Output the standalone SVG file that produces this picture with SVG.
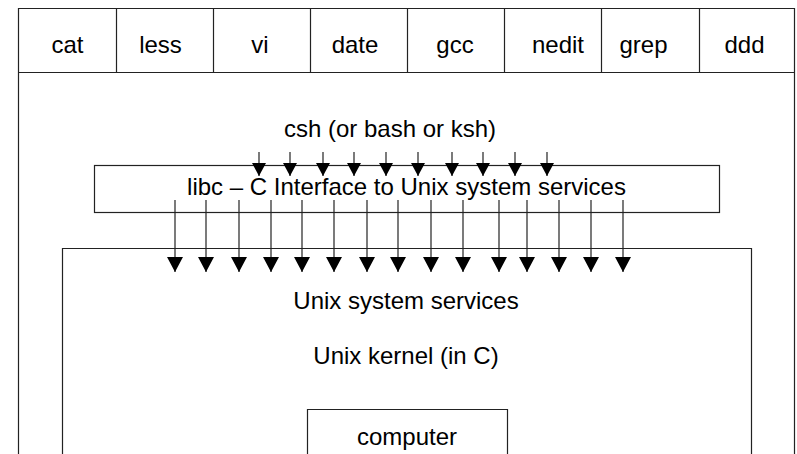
<svg xmlns="http://www.w3.org/2000/svg" width="797" height="454" viewBox="0 0 797 454">
  <style>
    .box { fill: none; stroke: #222; stroke-width: 1.2; }
    .lbl { font-family: "Liberation Sans", Arial, sans-serif; font-size: 24px; fill: #000; text-anchor: middle; }
    .arr { stroke: #222; stroke-width: 1.2; fill: none; }
    .s { marker-end: url(#headS); }
    .l { marker-end: url(#headL); }
  </style>
  <defs>
    <marker id="headS" markerUnits="userSpaceOnUse" markerWidth="13" markerHeight="14" refX="12" refY="6.5" orient="auto" viewBox="0 0 12 13">
      <path d="M0,0 L12,6.5 L0,13 z" fill="#000"/>
    </marker>
    <marker id="headL" markerUnits="userSpaceOnUse" markerWidth="15" markerHeight="16" refX="14" refY="7.5" orient="auto" viewBox="0 0 14 15">
      <path d="M0,0 L14,7.5 L0,15 z" fill="#000"/>
    </marker>
  </defs>

  <g id="outer">
    <path class="box" d="M18.5,460 V8.5 H794.5 V460"/>
    <path class="box" d="M18.5,72.5 H794.5"/>
  </g>

  <g id="programs">
    <g id="cat"><text class="lbl" x="67.5" y="53">cat</text></g>
    <path class="box" d="M116.5,8.5 V72.5"/>
    <g id="less"><text class="lbl" x="160.5" y="53">less</text></g>
    <path class="box" d="M213.5,8.5 V72.5"/>
    <g id="vi"><text class="lbl" x="260" y="53">vi</text></g>
    <path class="box" d="M310.5,8.5 V72.5"/>
    <g id="date"><text class="lbl" x="355" y="53">date</text></g>
    <path class="box" d="M407.5,8.5 V72.5"/>
    <g id="gcc"><text class="lbl" x="455" y="53">gcc</text></g>
    <path class="box" d="M504.5,8.5 V72.5"/>
    <g id="nedit"><text class="lbl" x="558" y="53">nedit</text></g>
    <path class="box" d="M601.5,8.5 V72.5"/>
    <g id="grep"><text class="lbl" x="643.5" y="53">grep</text></g>
    <path class="box" d="M699.5,8.5 V72.5"/>
    <g id="ddd"><text class="lbl" x="744.5" y="53">ddd</text></g>
  </g>

  <g id="shell">
    <text class="lbl" x="390" y="137">csh (or bash or ksh)</text>
  </g>

  <g id="libc">
    <rect class="box" x="94.5" y="165.5" width="625" height="47"/>
    <text class="lbl" x="406.5" y="195">libc – C Interface to Unix system services</text>
  </g>

  <g id="kernel">
    <path class="box" d="M62.5,460 V248.5 H751.5 V460"/>
    <text class="lbl" x="406" y="309">Unix system services</text>
    <text class="lbl" x="406" y="364">Unix kernel (in C)</text>
  </g>

  <g id="computer">
    <path class="box" d="M307.5,460 V409.5 H507.5 V460"/>
    <text class="lbl" x="407" y="445">computer</text>
  </g>

  <g id="connectors">
    <line class="arr s" x1="259" y1="152" x2="259" y2="176"/>
    <line class="arr s" x1="290" y1="152" x2="290" y2="176"/>
    <line class="arr s" x1="323" y1="152" x2="323" y2="176"/>
    <line class="arr s" x1="354" y1="152" x2="354" y2="176"/>
    <line class="arr s" x1="386" y1="152" x2="386" y2="176"/>
    <line class="arr s" x1="418" y1="152" x2="418" y2="176"/>
    <line class="arr s" x1="452" y1="152" x2="452" y2="176"/>
    <line class="arr s" x1="483" y1="152" x2="483" y2="176"/>
    <line class="arr s" x1="515" y1="152" x2="515" y2="176"/>
    <line class="arr s" x1="547" y1="152" x2="547" y2="176"/>

    <line class="arr l" x1="175" y1="200" x2="175" y2="272"/>
    <line class="arr l" x1="206" y1="200" x2="206" y2="272"/>
    <line class="arr l" x1="239" y1="200" x2="239" y2="272"/>
    <line class="arr l" x1="271" y1="200" x2="271" y2="272"/>
    <line class="arr l" x1="302" y1="200" x2="302" y2="272"/>
    <line class="arr l" x1="334" y1="200" x2="334" y2="272"/>
    <line class="arr l" x1="367" y1="200" x2="367" y2="272"/>
    <line class="arr l" x1="398" y1="200" x2="398" y2="272"/>
    <line class="arr l" x1="431" y1="200" x2="431" y2="272"/>
    <line class="arr l" x1="463" y1="200" x2="463" y2="272"/>
    <line class="arr l" x1="499" y1="200" x2="499" y2="272"/>
    <line class="arr l" x1="527" y1="200" x2="527" y2="272"/>
    <line class="arr l" x1="559" y1="200" x2="559" y2="272"/>
    <line class="arr l" x1="591" y1="200" x2="591" y2="272"/>
    <line class="arr l" x1="623" y1="200" x2="623" y2="272"/>
  </g>
</svg>
